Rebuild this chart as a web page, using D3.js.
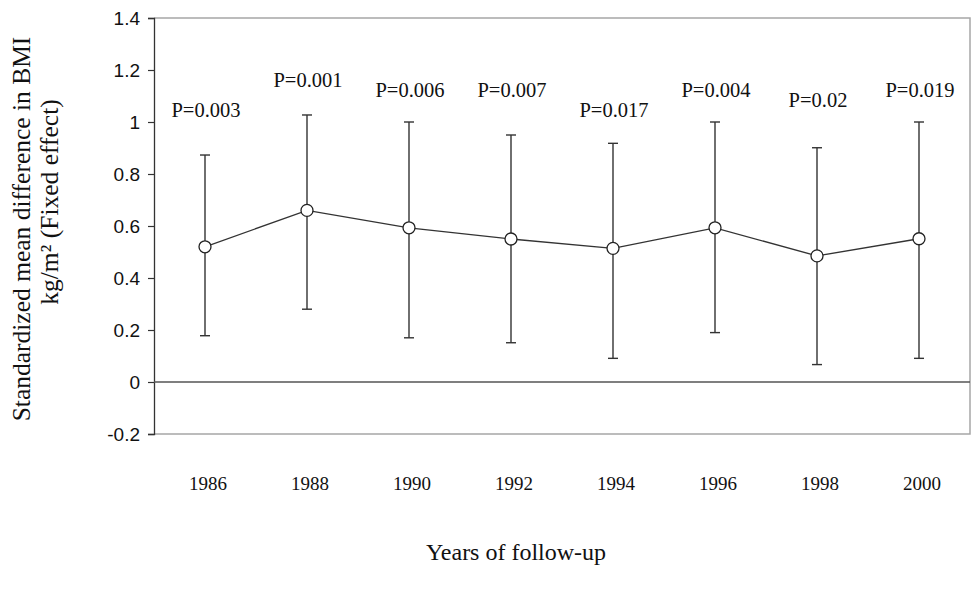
<!DOCTYPE html>
<html>
<head>
<meta charset="utf-8">
<script src="https://cdn.jsdelivr.net/npm/d3@7"></script>
<style>
  body { margin: 0; background: #fff; }
  svg { display: block; }
</style>
</head>
<body>
<svg id="chart" width="976" height="590"></svg>
<script>
// chart values
const years = ['1986', '1988', '1990', '1992', '1994', '1996', '1998', '2000'];
const smd = [0.52, 0.66, 0.593, 0.55, 0.514, 0.593, 0.485, 0.551];
const ciLow = [0.178, 0.28, 0.17, 0.151, 0.091, 0.19, 0.067, 0.091];
const ciHigh = [0.873, 1.027, 1.0, 0.95, 0.918, 1.0, 0.901, 1.0];
const pLabels = ['P=0.003', 'P=0.001', 'P=0.006', 'P=0.007', 'P=0.017', 'P=0.004', 'P=0.02', 'P=0.019'];
// height (in y units) where each p-value label sits
const pLabelLevel = [1.044, 1.162, 1.123, 1.123, 1.044, 1.123, 1.084, 1.123];
const yTicks = [-0.2, 0, 0.2, 0.4, 0.6, 0.8, 1, 1.2, 1.4];

const serif = '"Liberation Serif", "Times New Roman", serif';
const sans = '"Liberation Sans", Arial, sans-serif';

const plot = { left: 154, right: 970, top: 18, bottom: 434 };

const svg = d3.select('#chart');

const x = d3.scaleBand()
    .domain(years)
    .range([plot.left, plot.right]);
const y = d3.scaleLinear()
    .domain([-0.2, 1.4])
    .range([plot.bottom, plot.top]);

const rows = years.map((year, i) => ({
    year,
    mean: smd[i],
    lo: ciLow[i],
    hi: ciHigh[i],
    label: pLabels[i],
    labelAt: pLabelLevel[i],
}));
const cx = d => x(d.year) + x.bandwidth() / 2;

// frame (light grey top/right/bottom)
svg.append('path')
    .attr('fill', 'none')
    .attr('stroke', '#a6a6a6')
    .attr('stroke-width', 1.5)
    .attr('d', `M ${ plot.left },${ plot.top } H ${ plot.right } V ${ plot.bottom } H ${ plot.left }`);

// y axis
const yAxis = svg.append('g')
    .attr('transform', `translate(${ plot.left },0)`)
    .call(d3.axisLeft(y)
        .tickValues(yTicks)
        .tickSize(6)
        .tickPadding(8)
        .tickFormat(d => String(+d.toFixed(1))));
yAxis.select('.domain').attr('stroke', '#333').attr('stroke-width', 1.3);
yAxis.selectAll('.tick line').attr('stroke', '#333').attr('stroke-width', 1.2);
yAxis.selectAll('.tick text')
    .attr('font-family', sans)
    .attr('font-size', 19)
    .attr('fill', '#111');

// zero line
svg.append('line')
    .attr('x1', plot.left)
    .attr('x2', plot.right)
    .attr('y1', y(0))
    .attr('y2', y(0))
    .attr('stroke', '#555')
    .attr('stroke-width', 1.3);

// x tick labels (no axis line)
const xAxis = svg.append('g')
    .attr('transform', `translate(3,${ plot.bottom })`)
    .call(d3.axisBottom(x).tickSize(0).tickPadding(43));
xAxis.select('.domain').remove();
xAxis.selectAll('.tick text')
    .attr('font-family', serif)
    .attr('font-size', 19)
    .attr('fill', '#111');

// error bars
const bars = svg.append('g')
    .selectAll('g')
    .data(rows)
    .join('g')
    .attr('stroke', '#333')
    .attr('stroke-width', 1.4);
bars.append('line')
    .attr('x1', cx)
    .attr('x2', cx)
    .attr('y1', d => y(d.lo))
    .attr('y2', d => y(d.hi));
bars.append('line')
    .attr('x1', d => cx(d) - 5)
    .attr('x2', d => cx(d) + 5)
    .attr('y1', d => y(d.hi))
    .attr('y2', d => y(d.hi));
bars.append('line')
    .attr('x1', d => cx(d) - 5)
    .attr('x2', d => cx(d) + 5)
    .attr('y1', d => y(d.lo))
    .attr('y2', d => y(d.lo));

// mean line + markers
svg.append('path')
    .datum(rows)
    .attr('fill', 'none')
    .attr('stroke', '#333')
    .attr('stroke-width', 1.3)
    .attr('d', d3.line().x(cx).y(d => y(d.mean)));
svg.append('g')
    .selectAll('circle')
    .data(rows)
    .join('circle')
    .attr('cx', cx)
    .attr('cy', d => y(d.mean))
    .attr('r', 6)
    .attr('fill', '#fff')
    .attr('stroke', '#222')
    .attr('stroke-width', 1.3);

// p-value labels
svg.append('g')
    .selectAll('text')
    .data(rows)
    .join('text')
    .attr('x', d => cx(d) + 1)
    .attr('y', d => y(d.labelAt))
    .attr('dy', '0.33em')
    .attr('text-anchor', 'middle')
    .attr('font-family', serif)
    .attr('font-size', 20.5)
    .attr('fill', '#111')
    .text(d => d.label);

// axis titles, two lines, each centred on its own
svg.append('text')
    .attr('transform', 'translate(30,229) rotate(-90)')
    .attr('text-anchor', 'middle')
    .attr('font-family', serif)
    .attr('font-size', 25.5)
    .attr('fill', '#111')
    .text('Standardized mean difference in BMI');
svg.append('text')
    .attr('transform', 'translate(58,202) rotate(-90)')
    .attr('text-anchor', 'middle')
    .attr('font-family', serif)
    .attr('font-size', 25.5)
    .attr('fill', '#111')
    .text('kg/m\u00b2 (Fixed effect)');

svg.append('text')
    .attr('x', 516)
    .attr('y', 560)
    .attr('text-anchor', 'middle')
    .attr('font-family', serif)
    .attr('font-size', 24)
    .attr('fill', '#111')
    .text('Years of follow-up');
</script>
</body>
</html>
